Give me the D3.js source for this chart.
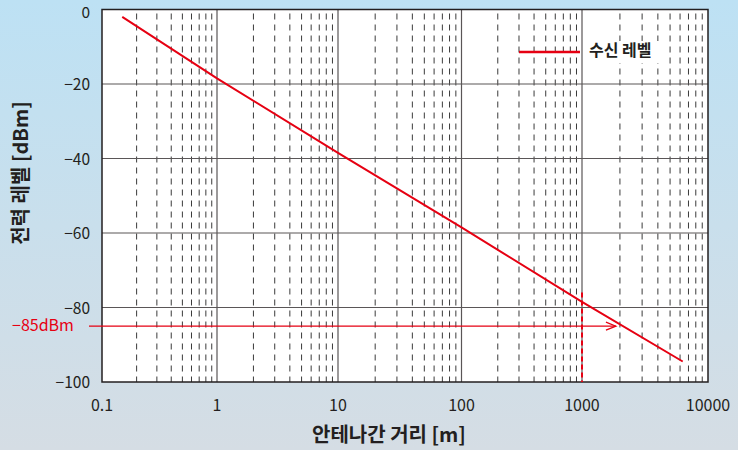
<!doctype html>
<html>
  <head>
    <meta charset="utf-8">
    <script src="https://d3js.org/d3.v7.min.js"></script>
    <style>
      body { margin: 0; }
      text { font-family: "Noto Sans CJK KR", "Noto Sans", sans-serif; fill: #231f20; }
    </style>
  </head>
  <body>
    <script>
    // data
    var distances = [0.15, 1, 10, 100, 1000, 6300];
    var levels = [-2, -18.5, -38.5, -58.5, -78.5, -94.5];
    var xTicks = [0.1, 1, 10, 100, 1000, 10000];
    var xTickLabels = ['0.1', '1', '10', '100', '1000', '10000'];
    var yTicks = [0, -20, -40, -60, -80, -100];
    var seriesName = '수신 레벨';
    var thresholdLevel = -85;
    var thresholdDistance = 2000;
    var markDistance = 1000;

    var width = 738, height = 450;

    var svg = d3.select('body').append('svg')
      .attr('width', width)
      .attr('height', height);

    var defs = svg.append('defs');
    var grad = defs.append('linearGradient')
      .attr('id', 'bg').attr('x1', 0).attr('y1', 0).attr('x2', 0).attr('y2', 1);
    grad.append('stop').attr('offset', '0%').attr('stop-color', '#bde1f4');
    grad.append('stop').attr('offset', '100%').attr('stop-color', '#d5dde4');

    svg.append('rect').attr('width', width).attr('height', height).attr('fill', 'url(#bg)');

    // the original decades are not evenly spaced, so use a piecewise log scale
    var x = d3.scaleLog()
      .domain(xTicks)
      .range([102, 217, 338, 461.5, 582, 708]);

    var y = d3.scaleLinear()
      .domain([0, -100])
      .range([9.5, 382]);

    var plot = svg.append('g');

    plot.append('rect')
      .attr('x', x(0.1)).attr('y', y(0))
      .attr('width', x(10000) - x(0.1))
      .attr('height', y(-100) - y(0))
      .attr('fill', '#fff');

    // minor gridlines
    var minor = [];
    for (var i = 0; i < xTicks.length - 1; i++) {
      for (var k = 2; k <= 9; k++) minor.push(xTicks[i] * k);
    }
    plot.selectAll('.minor').data(minor).enter().append('line')
      .attr('class', 'minor')
      .attr('x1', function(d) { return x(d); })
      .attr('x2', function(d) { return x(d); })
      .attr('y1', y(0) + 4).attr('y2', y(-100))
      .attr('stroke', '#3a3a3a')
      .attr('stroke-width', 1)
      .attr('stroke-dasharray', '6,5');

    // major gridlines
    plot.selectAll('.vmajor').data(xTicks.slice(1, -1)).enter().append('line')
      .attr('x1', function(d) { return x(d); })
      .attr('x2', function(d) { return x(d); })
      .attr('y1', y(0)).attr('y2', y(-100))
      .attr('stroke', '#5a5657').attr('stroke-width', 1.2);

    plot.selectAll('.hmajor').data(yTicks.slice(1, -1)).enter().append('line')
      .attr('x1', x(0.1)).attr('x2', x(10000))
      .attr('y1', function(d) { return y(d); })
      .attr('y2', function(d) { return y(d); })
      .attr('stroke', '#5a5657').attr('stroke-width', 1.2);

    plot.append('rect')
      .attr('x', x(0.1)).attr('y', y(0))
      .attr('width', x(10000) - x(0.1))
      .attr('height', y(-100) - y(0))
      .attr('fill', 'none')
      .attr('stroke', '#231f20')
      .attr('stroke-width', 1.5);

    // tick labels
    svg.selectAll('.xlab').data(xTicks).enter().append('text')
      .attr('x', function(d) { return x(d); })
      .attr('y', 407)
      .attr('text-anchor', 'middle')
      .attr('dominant-baseline', 'middle')
      .style('font-size', '16px')
      .text(function(d, i) { return xTickLabels[i]; });

    svg.selectAll('.ylab').data(yTicks).enter().append('text')
      .attr('x', 90)
      .attr('y', function(d) { return d === 0 ? y(d) + 4 : y(d) + 2; })
      .attr('text-anchor', 'end')
      .attr('dominant-baseline', 'middle')
      .style('font-size', '15.5px')
      .text(function(d) { return d < 0 ? '\u2212' + (-d) : d; });

    // axis titles
    svg.append('text')
      .attr('x', 389).attr('y', 437)
      .attr('text-anchor', 'middle')
      .attr('dominant-baseline', 'middle')
      .style('font-size', '20px')
      .style('font-weight', 'bold')
      .text('안테나간 거리 [m]');

    svg.append('text')
      .attr('transform', 'translate(23,173) rotate(-90)')
      .attr('text-anchor', 'middle')
      .attr('dominant-baseline', 'middle')
      .style('font-size', '20px')
      .style('font-weight', 'bold')
      .text('전력 레벨 [dBm]');

    // 1000 m marker
    plot.append('line')
      .attr('x1', x(markDistance)).attr('x2', x(markDistance))
      .attr('y1', y(-76)).attr('y2', y(-100))
      .attr('stroke', '#e60012')
      .attr('stroke-width', 2)
      .attr('stroke-dasharray', '5,3');

    // received level line
    var pts = distances.map(function(d, i) { return [d, levels[i]]; });
    var line = d3.line()
      .x(function(d) { return x(d[0]); })
      .y(function(d) { return y(d[1]); });

    plot.append('path')
      .datum(pts)
      .attr('d', line)
      .attr('fill', 'none')
      .attr('stroke', '#e60012')
      .attr('stroke-width', 2);

    // -85 dBm arrow
    var ay = y(thresholdLevel);
    var ax = x(thresholdDistance) - 4;
    svg.append('line')
      .attr('x1', 89).attr('x2', ax)
      .attr('y1', ay).attr('y2', ay)
      .attr('stroke', '#e60012').attr('stroke-width', 1.2);
    svg.append('path')
      .attr('d', 'M' + (ax - 10) + ',' + (ay - 4) + 'L' + ax + ',' + ay + 'L' + (ax - 10) + ',' + (ay + 4))
      .attr('fill', 'none')
      .attr('stroke', '#e60012').attr('stroke-width', 1.2);

    svg.append('text')
      .attr('x', 12).attr('y', ay + 1)
      .attr('dominant-baseline', 'middle')
      .style('font-size', '16px')
      .style('fill', '#e60012')
      .text('\u221285dBm');

    // legend
    var legend = svg.append('g').attr('transform', 'translate(519,52)');
    legend.append('rect')
      .attr('x', 64).attr('y', -11).attr('width', 76).attr('height', 22)
      .attr('fill', '#fff');
    legend.append('line')
      .attr('x1', 0).attr('x2', 61).attr('y1', 0).attr('y2', 0)
      .attr('stroke', '#e60012').attr('stroke-width', 2.5);
    legend.append('text')
      .attr('x', 70).attr('y', 0)
      .attr('dominant-baseline', 'middle')
      .style('font-size', '16px')
      .style('font-weight', 'bold')
      .text(seriesName);
    </script>
  </body>
</html>
